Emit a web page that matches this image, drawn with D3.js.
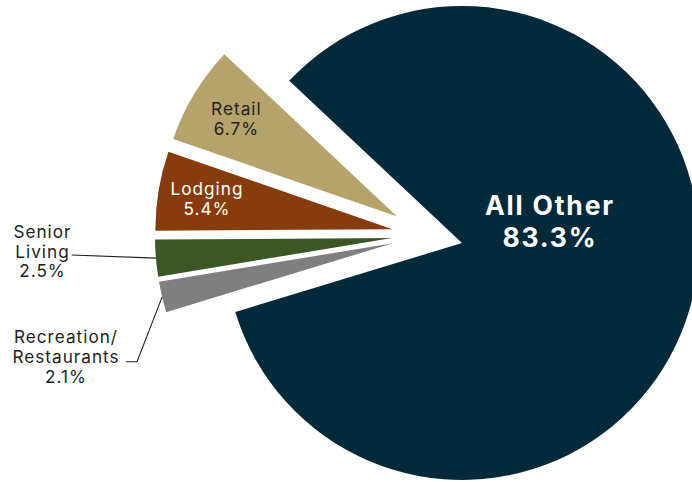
<!DOCTYPE html>
<html>
<head>
<meta charset="utf-8">
<script src="https://cdn.jsdelivr.net/npm/d3@7"></script>
<style>
  html, body { margin: 0; padding: 0; background: #ffffff; }
  svg { display: block; }
</style>
</head>
<body>
<svg id="chart" width="692" height="482"></svg>
<script>
// ---- data ----
const categories = ["All Other", "Recreation/Restaurants", "Senior Living", "Lodging", "Retail"];
const values = [83.3, 2.1, 2.5, 5.4, 6.7];
const labelLines = [["All Other", "83.3%"], ["Recreation/", "Restaurants", "2.1%"], ["Senior", "Living", "2.5%"], ["Lodging", "5.4%"], ["Retail", "6.7%"]];
const colors = ["#032a3b", "#7f7f7f", "#3a5724", "#873c0e", "#b5a36b"];
const textColors = ["#ffffff", "#231f20", "#231f20", "#ffffff", "#231f20"];

// ---- layout ----
const W = 692, H = 482;
const cx = 462, cy = 243, R = 237;
const startAngle = -46.8 * Math.PI / 180;
const groupExplode = 35, sliceExplode = 36;
const fontFamily = "Inter, 'Open Sans', sans-serif";

const svg = d3.select("#chart");
const g = svg.append("g").attr("transform", `translate(${cx},${cy})`);

const pie = d3.pie().sort(null).value(d => d.value)
  .startAngle(startAngle).endAngle(startAngle + 2 * Math.PI);
const data = categories.map((c, i) => ({ name: c, value: values[i], lines: labelLines[i], color: colors[i], tc: textColors[i] }));
const arcs = pie(data);
const arc = d3.arc().innerRadius(0).outerRadius(R);

const dir = a => [Math.sin(a), -Math.cos(a)];
const mid = d => (d.startAngle + d.endAngle) / 2;
const groupAngle = mid(arcs[0]) + Math.PI;
const gd = dir(groupAngle);
arcs.forEach((d, i) => {
  if (i === 0) { d.off = [0, 0]; return; }
  const sd = dir(mid(d));
  d.off = [groupExplode * gd[0] + sliceExplode * sd[0], groupExplode * gd[1] + sliceExplode * sd[1]];
});

g.selectAll("path.slice").data(arcs).join("path")
  .attr("class", "slice")
  .attr("d", arc)
  .attr("fill", d => d.data.color)
  .attr("transform", d => `translate(${d.off[0]},${d.off[1]})`);

function textBlock(sel, x, y, lines, fs, lh, color, weight, ls) {
  const t = sel.append("text")
    .attr("text-anchor", "middle")
    .attr("font-family", fontFamily)
    .attr("font-size", fs)
    .attr("font-weight", weight)
    .attr("letter-spacing", ls)
    .attr("fill", color);
  const cap = 0.72 * fs;
  const y0 = y - (lines.length - 1) * lh / 2 + cap / 2;
  lines.forEach((l, k) => t.append("tspan").attr("x", x + ls / 2).attr("y", y0 + k * lh).text(l));
  return t;
}

// All Other label (custom placement)
{
  const a = 76.2 * Math.PI / 180, r = 89.6;
  textBlock(g, r * Math.sin(a), -r * Math.cos(a), arcs[0].data.lines, 26.5, 31.7, arcs[0].data.tc, 700, 1.8);
}
// inside labels: Lodging, Retail
[3, 4].forEach(i => {
  const d = arcs[i];
  const a = mid(d), r = 0.795 * R;
  textBlock(g, d.off[0] + r * Math.sin(a), d.off[1] - r * Math.cos(a), d.data.lines, 17.2, 20, d.data.tc, 400, 1);
});

// outside labels with leader lines (absolute page coords)
const outside = [
  { i: 2, x: 42, y: 251.5, bend: null, end: [71.7, 255] },
  { i: 1, x: 65.5, y: 356.8, bend: [137, 361.7], end: [126, 361.7] }
];
outside.forEach(o => {
  const d = arcs[o.i];
  const a = mid(d);
  const p = [cx + d.off[0] + R * Math.sin(a), cy + d.off[1] - R * Math.cos(a)];
  const pts = o.bend ? [p, o.bend, o.end] : [p, o.end];
  svg.append("path")
    .attr("d", d3.line()(pts))
    .attr("fill", "none")
    .attr("stroke", "#231f20")
    .attr("stroke-width", 1.1);
  textBlock(svg, o.x, o.y, d.data.lines, 17.2, 19.7, d.data.tc, 400, 1);
});
</script>
</body>
</html>
